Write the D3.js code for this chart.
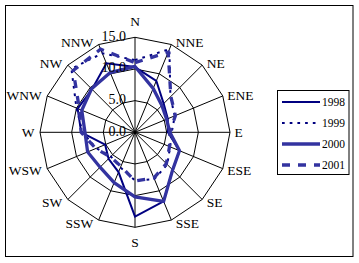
<!DOCTYPE html>
<html><head><meta charset="utf-8">
<script src="https://cdn.jsdelivr.net/npm/d3@7"></script>
<style>body{margin:0;background:#fff}svg{display:block}</style>
</head><body>
<svg id="c" width="359" height="263"></svg>
<script>
const directions = ["N","NNE","NE","ENE","E","ESE","SE","SSE","S","SSW","SW","WSW","W","WNW","NW","NNW"];
const years = ["1998","1999","2000","2001"];
const s1998 = [10.3, 8.8, 6.4, 5.6, 5.2, 7.6, 8.4, 11.8, 13.3, 6.8, 5.9, 5.1, 8.5, 9.8, 9.6, 11.8];
const s1999 = [11.4, 14.2, 7.9, 6.8, 5.8, 6.0, 7.2, 8.0, 7.6, 6.0, 5.4, 6.6, 8.3, 10.0, 14.2, 13.5];
const s2000 = [10.4, 7.5, 6.0, 5.4, 5.5, 7.6, 8.4, 11.8, 10.2, 8.6, 7.8, 8.1, 7.9, 9.1, 9.7, 10.2];
const s2001 = [11.0, 13.7, 8.0, 6.9, 5.5, 5.9, 7.0, 7.8, 7.7, 5.8, 5.5, 6.7, 8.5, 9.5, 13.8, 14.2];
const tickValues = [0, 5, 10, 15];
const tickLabels = ["0.0", "5.0", "10.0", "15.0"];

const seriesData = [s1998, s1999, s2000, s2001];
const styles = [
  {color:"#000080", width:2, dash:null},
  {color:"#000080", width:2, dash:"2.7,5"},
  {color:"#3333a0", width:3.3, dash:null},
  {color:"#3333a0", width:3.3, dash:"8,8"}
];

const svg = d3.select("#c");
svg.append("rect").attr("x",5.5).attr("y",5.5).attr("width",347.5).attr("height",251)
  .attr("fill","#fff").attr("stroke","#000").attr("stroke-width",1);

const cx = 135, cy = 132.3, R = 95;
const r = d3.scaleLinear().domain([0,15]).range([0,R]);
const ang = d3.scaleLinear().domain([0, directions.length]).range([0, 2*Math.PI]);
const g = svg.append("g").attr("transform",`translate(${cx},${cy})`);

// rings
const ringLine = d3.lineRadial().angle((d,i)=>ang(i)).radius(d=>r(d)).curve(d3.curveLinearClosed);
tickValues.filter(v=>v>0).forEach(v=>{
  g.append("path").attr("d", ringLine(directions.map(()=>v)))
    .attr("fill","none").attr("stroke","#000").attr("stroke-width",1);
});
// spokes
directions.forEach((d,i)=>{
  const a = ang(i);
  g.append("line").attr("x1",0).attr("y1",0)
    .attr("x2", r(15)*Math.sin(a)).attr("y2", -r(15)*Math.cos(a))
    .attr("stroke","#000").attr("stroke-width",1);
});

// series
const seriesLine = d3.lineRadial().angle((d,i)=>ang(i)).radius(d=>r(d)).curve(d3.curveLinearClosed);
seriesData.forEach((s,k)=>{
  const st = styles[k];
  g.append("path").attr("d", seriesLine(s)).attr("fill","none")
    .attr("stroke", st.color).attr("stroke-width", st.width)
    .attr("stroke-dasharray", st.dash).attr("stroke-linejoin","miter");
});

// tick labels
tickValues.forEach((v,i)=>{
  g.append("text").attr("x",-9).attr("y",-r(v)-1).attr("text-anchor","end")
    .attr("dominant-baseline","central")
    .attr("font-family","'Liberation Serif', serif").attr("font-size",14).attr("fill","#000")
    .text(tickLabels[i]);
});

// direction labels
directions.forEach((d,i)=>{
  const a = ang(i), s = Math.sin(a), c = Math.cos(a);
  const vx = r(15)*s, vy = -r(15)*c;
  let x, y, anchor;
  if (Math.abs(s) < 0.01) {
    x = vx; anchor = "middle"; y = vy + (c > 0 ? -15.6 : 15.4);
  } else {
    anchor = s > 0 ? "start" : "end";
    x = vx + (s > 0 ? 4.5 : -5.5);
    y = vy - 3*c + 0.5;
  }
  g.append("text").attr("x",x).attr("y",y).attr("text-anchor",anchor)
    .attr("dominant-baseline","central")
    .attr("font-family","'Liberation Serif', serif").attr("font-size",13.5).attr("fill","#000")
    .text(d);
});

// legend
const lg = svg.append("g");
lg.append("rect").attr("x",277.5).attr("y",90.5).attr("width",71.5).attr("height",84)
  .attr("fill","#fff").attr("stroke","#000").attr("stroke-width",1);
const ly = d3.scalePoint().domain(years).range([102, 165]);
years.forEach((yr,k)=>{
  const st = styles[k];
  lg.append("line").attr("x1",282).attr("x2",320).attr("y1",ly(yr)).attr("y2",ly(yr))
    .attr("stroke",st.color).attr("stroke-width",st.width).attr("stroke-dasharray",st.dash);
  lg.append("text").attr("x",322).attr("y",ly(yr)).attr("dominant-baseline","central")
    .attr("font-family","'Liberation Serif', serif").attr("font-size",11.5).attr("fill","#000")
    .text(yr);
});
</script>
</body></html>
